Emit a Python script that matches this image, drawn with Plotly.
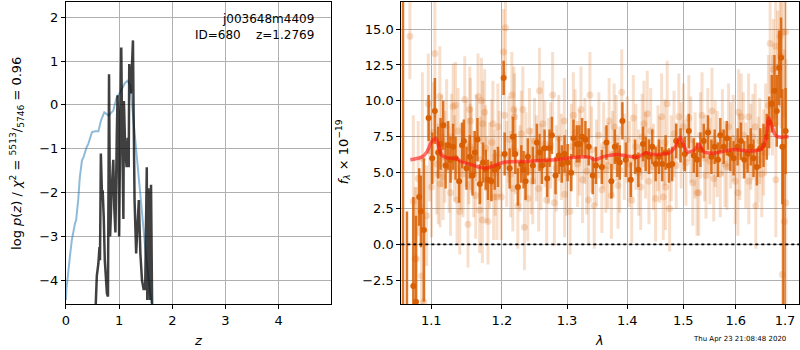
import plotly.graph_objects as go

# ---------------- left panel: log p(z) ----------------
z_prior = [0.0, 0.007, 0.08, 0.11, 0.17, 0.19, 0.23, 0.26, 0.30, 0.33, 0.39, 0.42, 0.49, 0.55, 0.61,
           0.66, 0.72, 0.76, 0.80, 0.89, 0.95, 1.02, 1.11, 1.16, 1.21, 1.27, 1.33, 1.40, 1.49, 1.57, 1.61]
lnp_prior = [-4.45, -4.22, -3.39, -3.08, -2.70, -2.63, -2.17, -1.65, -1.27, -1.19, -0.96, -0.89, -0.62, -0.60, -0.60,
             -0.35, -0.17, -0.20, -0.24, -0.13, 0.16, 0.29, 0.50, 0.55, 0.44, -0.36, -1.19, -2.18, -3.24, -4.15, -4.52]

z_grid = [0.56, 0.58, 0.61, 0.63, 0.64, 0.656, 0.68, 0.69, 0.71, 0.73, 0.77, 0.79, 0.81, 0.83, 0.86, 0.89,
          0.91, 0.93, 0.955, 0.97, 0.99, 1.00, 1.02, 1.04, 1.05, 1.07, 1.08, 1.09, 1.11, 1.14, 1.16, 1.18,
          1.19, 1.22, 1.24, 1.26, 1.27, 1.29, 1.32, 1.34, 1.37, 1.40, 1.43, 1.46, 1.49, 1.52, 1.53, 1.55,
          1.58, 1.60, 1.62]
lnp_z = [-4.54, -3.90, -3.61, -3.24, -3.54, -1.11, -2.17, -1.95, -2.55, -3.54, -4.30, -4.37, 0.70, -3.00, -1.94, -1.25,
         -2.39, -2.91, -0.76, 0.22, -0.76, -3.00, -0.60, 1.31, 0.09, -2.24, -2.60, 0.09, -0.83, -1.42, -0.75, -1.42,
         0.93, 0.26, 0.86, 1.47, 0.09, -2.17, -3.39, -2.87, -2.17, -3.40, -4.00, -4.20, -4.20, -1.42, -4.45, -1.90,
         -4.45, -1.82, -4.54]

# ---------------- right panel: spectrum ----------------
wave_bin = [1.0624, 1.0676, 1.0760, 1.0795, 1.0838, 1.0861, 1.0901,
            1.0964, 1.1013, 1.1049, 1.1094, 1.1127, 1.1163, 1.1196, 1.1231, 1.1264, 1.1300, 1.1334, 1.1384, 1.1426,
            1.1450, 1.1488, 1.1534, 1.1573, 1.1605, 1.1644, 1.1677, 1.1724, 1.1763, 1.1796, 1.1845, 1.1893, 1.1941,
            1.2025, 1.2040, 1.2114, 1.2163, 1.2199, 1.2238, 1.2289, 1.2323, 1.2354, 1.2389, 1.2465, 1.2527, 1.2568,
            1.2604, 1.2646, 1.2688, 1.2724, 1.2760, 1.2818, 1.2870, 1.2917, 1.2960, 1.3010, 1.3067, 1.3104, 1.3157,
            1.3200, 1.3244, 1.3298, 1.3352, 1.3418, 1.3471,
            1.3570, 1.3647, 1.3730, 1.3788, 1.3832, 1.3872, 1.3917, 1.3975, 1.4061, 1.4135, 1.4193, 1.4274, 1.4322,
            1.4379, 1.4438, 1.4498, 1.4557, 1.4616, 1.4677, 1.4737, 1.4796, 1.4869, 1.4949, 1.5028, 1.5102, 1.5195,
            1.5256,
            1.5320, 1.5382, 1.5463, 1.5528, 1.5591, 1.5654, 1.5699, 1.5764, 1.5827, 1.5894, 1.5958, 1.6037, 1.6102,
            1.6169, 1.6235, 1.6300, 1.6354, 1.6421, 1.6489, 1.6556, 1.6623, 1.6672, 1.6725, 1.6781, 1.6828, 1.6877,
            1.6918, 1.6945, 1.6966, 1.7013]
flux_bin = [-12.0, -8.0, -2.9, -4.0, 3.3, 2.3, 1.0,
            8.8, 6.0, 9.3, 6.4, 7.0, 8.3, 5.5, 6.9, 5.9, 6.8, 6.0, 4.4, 6.9,
            7.2, 5.3, 6.1, 4.8, 6.4, 7.3, 4.2, 5.7, 5.2, 4.5, 4.4, 5.2, 5.4,
            11.6, 6.3, 5.3, 7.5, 6.3, 4.0, 5.6, 5.2, 4.4, 6.1, 5.5, 7.1, 6.4,
            5.5, 6.7, 4.6, 6.7, 7.6, 4.8, 6.2, 5.6, 6.3, 5.7, 5.0, 7.4, 7.0,
            7.0, 7.5, 7.3, 6.8, 4.8, 5.5,
            5.4, 7.1, 4.4, 6.8, 5.9, 5.7, 8.6, 5.9, 4.5, 6.1, 5.2, 7.0, 6.3,
            6.1, 6.8, 5.6, 6.1, 5.6, 6.4, 5.5, 5.6, 7.2, 6.9, 6.3, 7.9, 6.2,
            5.9,
            6.6, 7.2, 7.8, 6.1, 6.8, 5.9, 7.6, 6.8, 7.4, 6.3, 6.0, 6.8, 7.2,
            5.9, 6.3, 6.8, 6.0, 5.4, 6.7, 6.9, 7.5, 8.5, 9.8, 10.7, 9.3, 12.3,
            13.0, 6.8, -8.0, 7.9]
err_bin = [35.0, 10.3, 6.2, 6.0, 2.0, 2.5, 5.0,
           1.6, 1.8, 2.3, 1.8, 1.8, 1.7, 1.6, 1.7, 1.6, 1.6, 1.5, 1.5, 1.6,
           1.5, 1.5, 1.5, 1.4, 1.5, 1.5, 1.4, 1.4, 1.4, 1.4, 1.4, 1.4, 1.4,
           1.2, 1.5, 1.4, 1.4, 1.4, 1.3, 1.3, 1.3, 1.3, 1.3, 1.3, 1.3, 1.3,
           1.3, 1.3, 1.3, 1.3, 1.3, 1.3, 1.3, 1.3, 1.3, 1.3, 1.3, 1.3, 1.3,
           1.3, 1.3, 1.3, 1.3, 1.3, 1.3,
           1.2, 1.2, 1.2, 1.2, 1.2, 1.2, 1.3, 1.2, 1.2, 1.2, 1.2, 1.2, 1.2,
           1.2, 1.2, 1.2, 1.2, 1.2, 1.2, 1.2, 1.2, 1.2, 1.2, 1.2, 1.2, 1.2,
           1.2,
           1.2, 1.2, 1.2, 1.2, 1.2, 1.2, 1.2, 1.2, 1.2, 1.2, 1.2, 1.3, 1.3,
           1.3, 1.3, 1.3, 1.3, 1.3, 1.4, 1.5, 1.6, 1.8, 2.0, 2.5, 2.5, 2.6,
           2.8, 4.0, 15.0, 3.0]

wave_raw = [1.0715, 1.0760, 1.0782, 1.0800, 1.0825, 1.0870, 1.0880, 1.0901, 1.0937, 1.0959, 1.0980, 1.1004,
            1.1030, 1.1049, 1.1075, 1.1094, 1.1117, 1.1120, 1.1140, 1.1162, 1.1185, 1.1210, 1.1245, 1.1264,
            1.1280, 1.1300, 1.1320, 1.1333, 1.1355, 1.1370, 1.1393, 1.1410, 1.1439, 1.1463, 1.1480, 1.1509,
            1.1520, 1.1533, 1.1540, 1.1543, 1.1560, 1.1590, 1.1618, 1.1630, 1.1651, 1.1675, 1.1690, 1.1700,
            1.1714, 1.1720, 1.1747, 1.1760, 1.1780, 1.1795, 1.1820, 1.1850, 1.1867, 1.1878, 1.1900, 1.1926,
            1.1940, 1.1960,
            1.1990, 1.2024, 1.2039, 1.2053, 1.2070, 1.2100, 1.2130, 1.2147, 1.2162, 1.2177, 1.2187, 1.2200,
            1.2237, 1.2270, 1.2290, 1.2312, 1.2337, 1.2360, 1.2387, 1.2413, 1.2440, 1.2463, 1.2490, 1.2520,
            1.2555, 1.2566, 1.2590, 1.2617, 1.2650, 1.2679, 1.2710, 1.2740, 1.2772, 1.2799, 1.2830, 1.2870,
            1.2910, 1.2957, 1.2962, 1.2990, 1.3048, 1.3070, 1.3101, 1.3130, 1.3170, 1.3200, 1.3225, 1.3251,
            1.3290, 1.3320, 1.3349, 1.3372, 1.3400, 1.3442, 1.3480, 1.3520,
            1.3570, 1.3600, 1.3636, 1.3670, 1.3692, 1.3730, 1.3750, 1.3776, 1.3810, 1.3843, 1.3870, 1.3906,
            1.3950, 1.4000, 1.4040, 1.4078, 1.4105, 1.4150, 1.4200, 1.4234, 1.4260, 1.4291, 1.4320, 1.4349,
            1.4379, 1.4410, 1.4460, 1.4498, 1.4540, 1.4570, 1.4605, 1.4634, 1.4660, 1.4677, 1.4706, 1.4749,
            1.4780, 1.4830, 1.4870, 1.4918, 1.4960, 1.5000, 1.5050, 1.5102, 1.5140, 1.5176, 1.5220, 1.5256,
            1.5288, 1.5320, 1.5350, 1.5400, 1.5425, 1.5460, 1.5500, 1.5539, 1.5572, 1.5600, 1.5640, 1.5699,
            1.5740, 1.5790, 1.5827, 1.5860, 1.5900, 1.5950, 1.5991, 1.6042, 1.6056, 1.6080, 1.6109, 1.6150,
            1.6200, 1.6254, 1.6260, 1.6300, 1.6340, 1.6388, 1.6400, 1.6450, 1.6480, 1.6521, 1.6560, 1.6600,
            1.6657, 1.6692, 1.6739, 1.6759, 1.6806, 1.6810, 1.6848, 1.6897, 1.6918, 1.6945, 1.6966, 1.6986,
            1.7013, 1.7018]
flux_raw = [14.5, 3.0, -1.0, -1.0, 4.6, -2.2, 6.0, -4.0, 2.0, 9.8, 6.5, 4.0,
            7.8, 13.3, 5.6, 4.9, 10.3, 4.2, 7.2, 4.7, 6.1, 8.3, 5.2, 3.6,
            7.5, 9.6, 6.0, 9.7, 3.1, 7.9, 2.3, 5.4, 4.9, 10.1, 7.0, 1.4,
            5.8, 9.4, 6.8, 8.6, 6.6, 4.9, 3.4, 7.4, 10.3, 2.4, 5.9, 10.0,
            1.7, 8.4, 9.2, 6.7, 4.5, 1.6, 5.5, 7.1, 8.4, 3.3, 5.0, 3.3,
            8.2, 6.3,
            3.3, 13.4, 9.0, 15.1, 5.6, 7.3, 4.9, 10.4, 3.9, 9.4, 8.9, 6.5,
            2.7, 5.3, 7.7, 9.4, 1.2, 6.2, 3.2, 7.9, 5.1, 4.4, 7.2, 6.0,
            3.9, 10.7, 5.4, 8.4, 7.0, 3.1, 5.8, 6.9, 10.4, 2.9, 5.3, 7.4,
            6.1, 8.6, 3.5, 5.0, 2.3, 6.8, 9.0, 7.8, 5.6, 6.4, 9.4, 4.5,
            7.2, 5.1, 3.1, 10.4, 6.6, 2.7, 5.7, 7.6,
            3.8, 6.9, 5.2, 5.5, 8.6, 3.4, 6.3, 8.2, 7.4, 4.1, 5.2, 10.6,
            6.1, 7.3, 5.6, 3.1, 8.8, 6.8, 5.0, 4.0, 7.5, 8.4, 6.2, 9.1,
            4.4, 7.9, 5.4, 3.2, 6.7, 5.9, 8.9, 3.3, 7.1, 4.0, 9.8, 2.5,
            6.0, 7.7, 5.5, 8.9, 6.9, 8.2, 5.7, 8.8, 7.3, 4.3, 6.2, 3.6,
            3.6, 7.6, 9.0, 6.0, 4.8, 7.9, 5.8, 9.3, 4.6, 7.0, 6.3, 4.9,
            7.8, 5.6, 5.4, 8.2, 6.9, 7.4, 4.4, 3.6, 9.2, 6.1, 8.9, 7.6,
            5.5, 8.9, 4.4, 6.8, 7.5, 8.2, 2.7, 5.9, 7.2, 4.9, 6.4, 8.0,
            9.7, 14.0, 9.7, 12.2, 13.8, 4.5, 12.3, 14.5, 13.1, -2.1, 14.8, 1.6,
            14.8, 2.9]
err_raw = [3.0, 6.0, 5.0, 5.0, 4.0, 5.0, 6.0, 6.0, 3.5, 3.5, 3.5, 3.5,
           3.5, 4.5, 3.5, 3.5, 3.5, 3.0, 3.2, 3.0, 3.2, 3.2, 3.0, 3.0,
           3.0, 3.0, 3.0, 3.0, 3.0, 3.0, 3.0, 3.0, 3.0, 3.0, 3.0, 3.0,
           3.0, 3.0, 3.0, 3.0, 3.0, 3.0, 3.0, 3.0, 3.0, 3.0, 3.0, 3.0,
           3.0, 3.0, 3.0, 3.0, 3.0, 3.0, 3.0, 3.0, 3.0, 3.0, 3.0, 3.0,
           3.0, 3.0,
           3.0, 3.0, 3.0, 3.5, 3.0, 3.0, 3.0, 3.0, 3.0, 3.0, 3.0, 3.0,
           3.0, 3.0, 3.0, 3.0, 3.0, 3.0, 3.0, 3.0, 3.0, 3.0, 3.0, 3.0,
           3.0, 3.0, 3.0, 3.0, 3.0, 3.0, 3.0, 3.0, 3.0, 3.0, 3.0, 3.0,
           3.0, 3.0, 3.0, 3.0, 3.0, 3.0, 3.0, 3.0, 3.0, 3.0, 3.0, 3.0,
           3.0, 3.0, 3.0, 3.0, 3.0, 3.0, 3.0, 3.0,
           3.0, 3.0, 3.0, 3.0, 3.0, 3.0, 3.0, 3.0, 3.0, 3.0, 3.0, 3.0,
           3.0, 3.0, 3.0, 3.0, 3.0, 3.0, 3.0, 3.0, 3.0, 3.0, 3.0, 3.0,
           3.0, 3.0, 3.0, 3.0, 3.0, 3.0, 3.0, 3.0, 3.0, 3.0, 3.0, 3.0,
           3.0, 3.0, 3.0, 3.0, 3.0, 3.0, 3.0, 3.0, 3.0, 3.0, 3.0, 3.0,
           3.0, 3.0, 3.0, 3.0, 3.0, 3.0, 3.0, 3.0, 3.0, 3.0, 3.0, 3.0,
           3.0, 3.0, 3.0, 3.0, 3.0, 3.0, 3.0, 3.0, 3.0, 3.0, 3.0, 3.0,
           3.0, 3.0, 3.0, 3.0, 3.0, 3.0, 3.0, 3.0, 3.0, 3.0, 3.0, 3.2,
           3.5, 3.5, 3.5, 3.5, 5.0, 4.0, 4.0, 5.0, 5.0, 12.0, 6.0, 12.0,
           8.0, 10.0]

wave_model = [1.0720, 1.0874, 1.0941, 1.1000, 1.1063, 1.1107, 1.1144, 1.1213, 1.1351, 1.1421, 1.1515,
              1.1657, 1.1776, 1.1896, 1.2043, 1.2342, 1.2597, 1.2857, 1.3122, 1.3365, 1.3447, 1.3613,
              1.3838, 1.4009, 1.4182, 1.4327, 1.4445, 1.4742, 1.4851, 1.4942, 1.4986, 1.5078, 1.5200,
              1.5293, 1.5388, 1.5578, 1.5964, 1.6228, 1.6495, 1.6597, 1.6664, 1.6734, 1.6802, 1.6904,
              1.7076]
flux_model = [5.90, 6.08, 6.43, 7.10, 7.40, 6.78, 6.20, 6.04, 5.97, 5.74, 5.62,
              5.39, 5.32, 5.50, 5.74, 5.78, 5.85, 5.92, 6.08, 6.08, 5.90, 6.13,
              6.27, 6.15, 6.08, 6.39, 6.27, 6.36, 6.78, 7.47, 7.10, 6.43, 6.55,
              6.97, 6.43, 6.36, 6.62, 6.50, 6.60, 7.24, 8.82, 8.17, 7.59, 7.47,
              7.52]

lam_ticks = [1.1, 1.2, 1.3, 1.4, 1.5, 1.6, 1.7]
lam_ticktext = ["1.1", "1.2", "1.3", "1.4", "1.5", "1.6", "1.7"]

ORANGE = "rgb(217,95,2)"
ORANGE_BAR = "rgba(217,95,2,0.85)"
ORANGE_LIGHT = "rgba(217,95,2,0.2)"
FONT = "DejaVu Sans"
GRID = "#b0b0b0"

fig = go.Figure()

fig.add_trace(go.Scatter(x=z_prior, y=lnp_prior, mode="lines",
                         line=dict(color="rgba(31,119,180,0.5)", width=2),
                         xaxis="x", yaxis="y", showlegend=False))
fig.add_trace(go.Scatter(x=z_grid, y=lnp_z, mode="lines",
                         line=dict(color="rgba(0,0,0,0.75)", width=2.5),
                         xaxis="x", yaxis="y", showlegend=False))

fig.add_trace(go.Scatter(x=wave_raw, y=flux_raw, mode="markers",
                         marker=dict(color=ORANGE_LIGHT, size=7, line=dict(width=0)),
                         error_y=dict(type="data", array=err_raw, color=ORANGE_LIGHT,
                                      thickness=3, width=0),
                         xaxis="x2", yaxis="y2", showlegend=False, cliponaxis=True))
fig.add_trace(go.Scatter(x=wave_bin, y=flux_bin, mode="markers",
                         marker=dict(color=ORANGE, size=6, line=dict(width=0)),
                         error_y=dict(type="data", array=err_bin, color=ORANGE_BAR,
                                      thickness=2.5, width=0),
                         xaxis="x2", yaxis="y2", showlegend=False, cliponaxis=True))
fig.add_trace(go.Scatter(x=wave_model, y=flux_model, mode="lines",
                         line=dict(color="rgba(255,20,20,0.6)", width=3.5, shape="spline", smoothing=0.6),
                         xaxis="x2", yaxis="y2", showlegend=False))

fig.add_shape(type="line", xref="x2 domain", yref="y2", x0=0, x1=1, y0=0, y1=0,
              line=dict(color="black", width=1.6, dash="dot"), layer="above")

axis_common = dict(showline=True, linecolor="black", linewidth=1, mirror=True,
                   ticks="outside", ticklen=4, tickwidth=0.8, tickcolor="black",
                   showgrid=True, gridcolor=GRID, gridwidth=0.8, zeroline=False,
                   tickfont=dict(family=FONT, size=13, color="black"))

ydom = [1 - 304 / 350, 1 - 1.5 / 350]
fig.update_layout(
    width=800, height=350,
    margin=dict(l=0, r=0, t=0, b=0),
    paper_bgcolor="white", plot_bgcolor="white",
    font=dict(family=FONT, size=13, color="black"),
    xaxis=dict(domain=[62.3 / 800, 328.7 / 800], range=[0, 4.987],
               tickvals=[0, 1, 2, 3, 4], anchor="y", **axis_common),
    yaxis=dict(domain=ydom, range=[-4.54, 2.357], tickvals=[-4, -3, -2, -1, 0, 1, 2],
               anchor="x", **axis_common),
    xaxis2=dict(domain=[399.3 / 800, 799 / 800], type="log",
                range=[0.02539, 0.23793], tickvals=lam_ticks, ticktext=lam_ticktext,
                anchor="y2", **axis_common),
    yaxis2=dict(domain=ydom, range=[-4.15, 16.92],
                tickvals=[-2.5, 0, 2.5, 5, 7.5, 10, 12.5, 15],
                ticktext=["\u22122.5", "0.0", "2.5", "5.0", "7.5", "10.0", "12.5", "15.0"],
                anchor="x2", **axis_common),
)

annos = [
    dict(x=314 / 800, y=1 - 10 / 350, xref="paper", yref="paper", xanchor="right", yanchor="top",
         align="right", showarrow=False,
         text="j003648m4409<br>ID=680\u00a0\u00a0\u00a0\u00a0z=1.2769",
         font=dict(family=FONT, size=12, color="black")),
    dict(x=13 / 800, y=1 - 153 / 350, xref="paper", yref="paper", xanchor="center", yanchor="middle",
         textangle=-90, showarrow=False,
         text="log <i>p</i>(<i>z</i>) / <i>\u03c7</i><sup>2</sup> = <sup>5513</sup>/<sub>5746</sub> = 0.96",
         font=dict(family=FONT, size=13, color="black")),
    dict(x=341 / 800, y=1 - 152 / 350, xref="paper", yref="paper", xanchor="center", yanchor="middle",
         textangle=-90, showarrow=False,
         text="<i>f</i><sub><i>\u03bb</i></sub> \u00d7 10<sup>\u221219</sup>",
         font=dict(family=FONT, size=13, color="black")),
    dict(x=195 / 800, y=1 - 340 / 350, xref="paper", yref="paper", xanchor="center", yanchor="middle",
         showarrow=False, text="<i>z</i>", font=dict(family=FONT, size=13, color="black")),
    dict(x=598 / 800, y=1 - 340 / 350, xref="paper", yref="paper", xanchor="center", yanchor="middle",
         showarrow=False, text="<i>\u03bb</i>", font=dict(family=FONT, size=13, color="black")),
    dict(x=788 / 800, y=1 - 339 / 350, xref="paper", yref="paper", xanchor="right", yanchor="middle",
         showarrow=False, text="Thu Apr 23 21:08:48 2020", font=dict(family=FONT, size=7, color="black")),
]
fig.update_layout(annotations=annos)

fig.write_html("out.html", config={"displayModeBar": False},
               post_script="document.body.style.margin='0';document.body.style.padding='0';")
